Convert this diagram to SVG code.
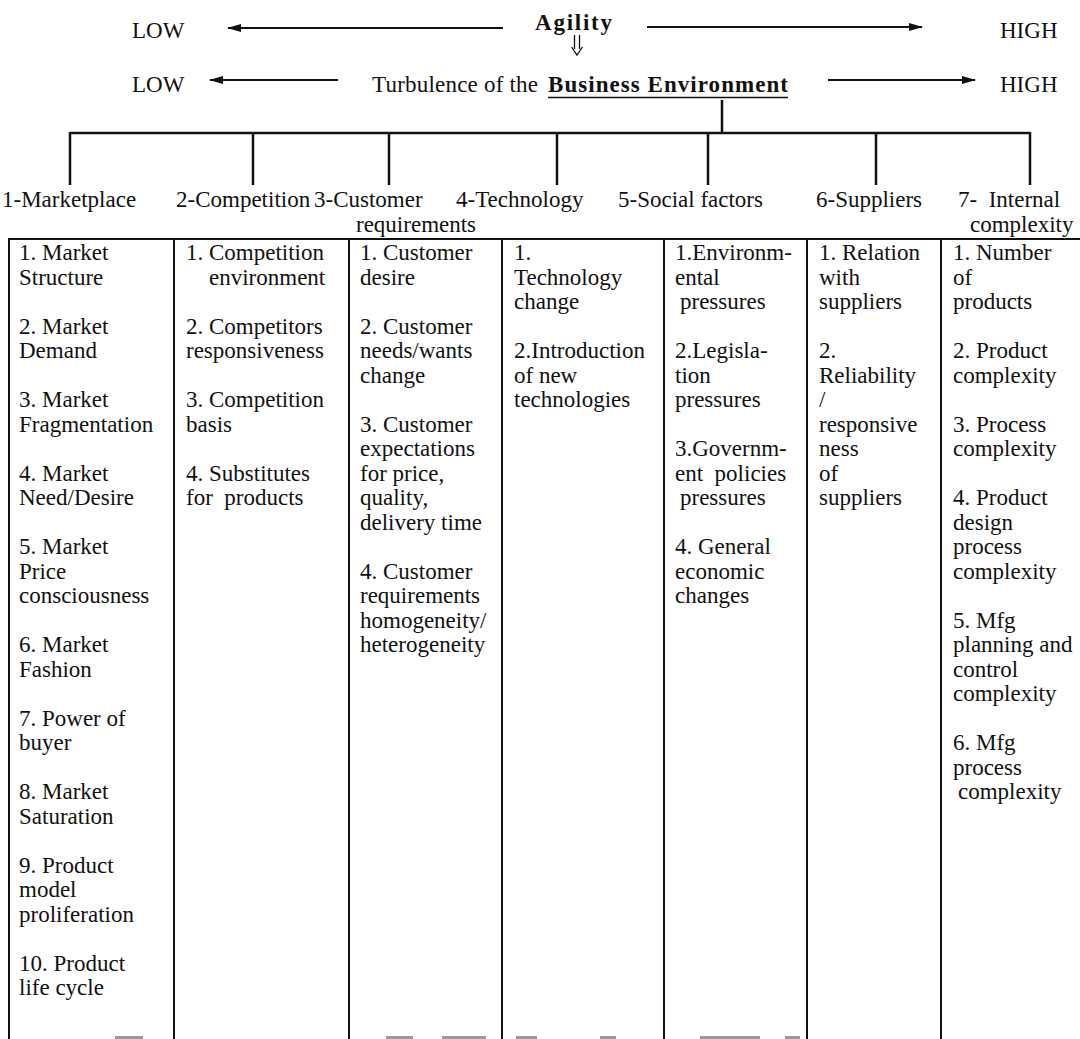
<svg xmlns="http://www.w3.org/2000/svg" width="1080" height="1039" viewBox="0 0 1080 1039">
  <style>
    .t { font-family: "Liberation Serif", "Times New Roman", serif; font-size: 23px; fill: #111; }
    .b { font-weight: bold; }
    .pre { white-space: pre; }
    .ln { stroke: #111; stroke-width: 2.5; fill: none; }
    .grid { stroke: #111; stroke-width: 2; fill: none; }
    .ar { stroke: #111; stroke-width: 2; fill: none; }
    .ghost { fill: #9a9a9a; }
  </style>
  <defs>
    <marker id="head" viewBox="0 0 14 8" refX="13" refY="4" markerWidth="14" markerHeight="8" markerUnits="userSpaceOnUse" orient="auto">
      <path d="M0,0 L14,4 L0,8 Z" fill="#111"/>
    </marker>
  </defs>
  <rect width="1080" height="1039" fill="#fff"/>

  <!-- scale rows: agility and turbulence -->
  <g id="agility-scale">
    <text class="t" x="132" y="38">LOW</text>
    <text class="t b" x="535" y="30" textLength="77" lengthAdjust="spacing">Agility</text>
    <text class="t" x="1000" y="38">HIGH</text>
  </g>
  <g id="turbulence-scale">
    <text class="t" x="132" y="92">LOW</text>
    <text class="t" x="372" y="92" textLength="166" lengthAdjust="spacing">Turbulence of the</text>
    <text class="t b" x="548" y="92" textLength="240" lengthAdjust="spacing">Business Environment</text>
    <line x1="548" y1="97.5" x2="788" y2="97.5" stroke="#111" stroke-width="1.6"/>
    <text class="t" x="1000" y="92">HIGH</text>
  </g>

  <!-- connectors: scale arrows, the agility-to-turbulence double arrow and the factor bracket -->
  <g id="connectors">
    <line class="ar" x1="503" y1="28" x2="228" y2="28" marker-end="url(#head)"/>
    <line class="ar" x1="647" y1="27" x2="922" y2="27" marker-end="url(#head)"/>
    <line class="ar" x1="338" y1="80" x2="210" y2="80" marker-end="url(#head)"/>
    <line class="ar" x1="828" y1="80" x2="975" y2="80" marker-end="url(#head)"/>

    <path d="M574.5,35 V49 M579.5,35 V49 M571.5,47 L577,55 L582.5,47" stroke="#111" stroke-width="1.3" fill="none"/>

    <line class="ln" x1="722" y1="100" x2="722" y2="133"/>
    <line class="ln" x1="70" y1="133" x2="1030" y2="133"/>
    <line class="ln" x1="70" y1="132" x2="70" y2="185"/>
    <line class="ln" x1="253" y1="133" x2="253" y2="185"/>
    <line class="ln" x1="389" y1="133" x2="389" y2="185"/>
    <line class="ln" x1="557" y1="133" x2="557" y2="185"/>
    <line class="ln" x1="708" y1="133" x2="708" y2="185"/>
    <line class="ln" x1="876" y1="133" x2="876" y2="185"/>
    <line class="ln" x1="1030" y1="132" x2="1030" y2="185"/>
  </g>

  <!-- factor headings -->
  <g id="factor-1"><text class="t" x="2" y="207">1-Marketplace</text></g>
  <g id="factor-2"><text class="t" x="176" y="207">2-Competition</text></g>
  <g id="factor-3"><text class="t" x="314" y="207">3-Customer</text><text class="t" x="356" y="232">requirements</text></g>
  <g id="factor-4"><text class="t" x="456" y="207">4-Technology</text></g>
  <g id="factor-5"><text class="t" x="618" y="207">5-Social factors</text></g>
  <g id="factor-6"><text class="t" x="816" y="207">6-Suppliers</text></g>
  <g id="factor-7"><text class="t pre" x="958" y="207">7-  Internal</text><text class="t" x="970" y="232">complexity</text></g>

  <!-- table frame -->
  <g id="table-frame">
    <line class="grid" x1="8" y1="239" x2="1080" y2="239"/>
    <line class="grid" x1="9" y1="238" x2="9" y2="1039"/>
    <line class="grid" x1="174" y1="238" x2="174" y2="1039"/>
    <line class="grid" x1="349" y1="238" x2="349" y2="1039"/>
    <line class="grid" x1="502" y1="238" x2="502" y2="1039"/>
    <line class="grid" x1="664" y1="238" x2="664" y2="1039"/>
    <line class="grid" x1="807" y1="238" x2="807" y2="1039"/>
    <line class="grid" x1="941" y1="238" x2="941" y2="1039"/>
  </g>

  <g id="column-marketplace" class="t">
    <text x="19" y="260">1. Market</text>
    <text x="19" y="284.5">Structure</text>
    <text x="19" y="333.5">2. Market</text>
    <text x="19" y="358">Demand</text>
    <text x="19" y="407">3. Market</text>
    <text x="19" y="431.5">Fragmentation</text>
    <text x="19" y="480.5">4. Market</text>
    <text x="19" y="505">Need/Desire</text>
    <text x="19" y="554">5. Market</text>
    <text x="19" y="578.5">Price</text>
    <text x="19" y="603">consciousness</text>
    <text x="19" y="652">6. Market</text>
    <text x="19" y="676.5">Fashion</text>
    <text x="19" y="725.5">7. Power of</text>
    <text x="19" y="750">buyer</text>
    <text x="19" y="799">8. Market</text>
    <text x="19" y="823.5">Saturation</text>
    <text x="19" y="872.5">9. Product</text>
    <text x="19" y="897">model</text>
    <text x="19" y="921.5">proliferation</text>
    <text x="19" y="970.5">10. Product</text>
    <text x="19" y="995">life cycle</text>
  </g>

  <g id="column-competition" class="t">
    <text x="186" y="260">1. Competition</text>
    <text x="209" y="284.5">environment</text>
    <text x="186" y="333.5">2. Competitors</text>
    <text x="186" y="358">responsiveness</text>
    <text x="186" y="407">3. Competition</text>
    <text x="186" y="431.5">basis</text>
    <text x="186" y="480.5">4. Substitutes</text>
    <text class="pre" x="186" y="505">for  products</text>
  </g>

  <g id="column-customer" class="t">
    <text x="360" y="260">1. Customer</text>
    <text x="360" y="284.5">desire</text>
    <text x="360" y="333.5">2. Customer</text>
    <text x="360" y="358">needs/wants</text>
    <text x="360" y="382.5">change</text>
    <text x="360" y="431.5">3. Customer</text>
    <text x="360" y="456">expectations</text>
    <text x="360" y="480.5">for price,</text>
    <text x="360" y="505">quality,</text>
    <text x="360" y="529.5">delivery time</text>
    <text x="360" y="578.5">4. Customer</text>
    <text x="360" y="603">requirements</text>
    <text x="360" y="627.5">homogeneity/</text>
    <text x="360" y="652">heterogeneity</text>
  </g>

  <g id="column-technology" class="t">
    <text x="514" y="260">1.</text>
    <text x="514" y="284.5">Technology</text>
    <text x="514" y="309">change</text>
    <text x="514" y="358">2.Introduction</text>
    <text x="514" y="382.5">of new</text>
    <text x="514" y="407">technologies</text>
  </g>

  <g id="column-social" class="t">
    <text x="675" y="260">1.Environm-</text>
    <text x="675" y="284.5">ental</text>
    <text x="680" y="309">pressures</text>
    <text x="675" y="358">2.Legisla-</text>
    <text x="675" y="382.5">tion</text>
    <text x="675" y="407">pressures</text>
    <text x="675" y="456">3.Governm-</text>
    <text class="pre" x="675" y="480.5">ent  policies</text>
    <text x="680" y="505">pressures</text>
    <text x="675" y="554">4. General</text>
    <text x="675" y="578.5">economic</text>
    <text x="675" y="603">changes</text>
  </g>

  <g id="column-suppliers" class="t">
    <text x="819" y="260">1. Relation</text>
    <text x="819" y="284.5">with</text>
    <text x="819" y="309">suppliers</text>
    <text x="819" y="358">2.</text>
    <text x="819" y="382.5">Reliability</text>
    <text x="819" y="407">/</text>
    <text x="819" y="431.5">responsive</text>
    <text x="819" y="456">ness</text>
    <text x="819" y="480.5">of</text>
    <text x="819" y="505">suppliers</text>
  </g>

  <g id="column-internal" class="t">
    <text x="953" y="260">1. Number</text>
    <text x="953" y="284.5">of</text>
    <text x="953" y="309">products</text>
    <text x="953" y="358">2. Product</text>
    <text x="953" y="382.5">complexity</text>
    <text x="953" y="431.5">3. Process</text>
    <text x="953" y="456">complexity</text>
    <text x="953" y="505">4. Product</text>
    <text x="953" y="529.5">design</text>
    <text x="953" y="554">process</text>
    <text x="953" y="578.5">complexity</text>
    <text x="953" y="627.5">5. Mfg</text>
    <text x="953" y="652">planning and</text>
    <text x="953" y="676.5">control</text>
    <text x="953" y="701">complexity</text>
    <text x="953" y="750">6. Mfg</text>
    <text x="953" y="774.5">process</text>
    <text x="958" y="799">complexity</text>
  </g>

  <!-- grey marks along the lower edge -->
  <g id="edge-marks">
    <rect class="ghost" x="115" y="1036" width="28" height="3"/>
    <rect class="ghost" x="386" y="1036" width="27" height="3"/>
    <rect class="ghost" x="442" y="1036" width="44" height="3"/>
    <rect class="ghost" x="516" y="1036" width="21" height="3"/>
    <rect class="ghost" x="600" y="1036" width="16" height="3"/>
    <rect class="ghost" x="700" y="1036" width="60" height="3"/>
    <rect class="ghost" x="785" y="1036" width="15" height="3"/>
  </g>
</svg>
